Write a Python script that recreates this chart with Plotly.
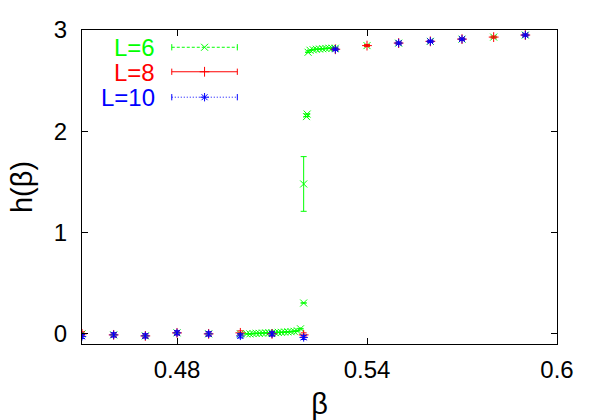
import plotly.graph_objects as go

# L=6 (green, x marks)
beta6 = [0.45, 0.46, 0.47, 0.48, 0.49, 0.50,
         0.502, 0.503, 0.504, 0.505, 0.506, 0.507, 0.508, 0.509, 0.510,
         0.511, 0.512, 0.513, 0.514, 0.515, 0.516, 0.517, 0.518, 0.519,
         0.520, 0.520, 0.5209, 0.5211, 0.5214,
         0.522, 0.523, 0.524, 0.525, 0.526, 0.527, 0.528, 0.529, 0.530,
         0.54, 0.55, 0.56, 0.57, 0.58, 0.59]
h6 = [0.0, -0.01, -0.02, 0.01, 0.0, 0.0,
      0.0, 0.0, 0.003, 0.005, 0.005, 0.008, 0.01, 0.01, 0.01,
      0.012, 0.015, 0.015, 0.018, 0.02, 0.022, 0.025, 0.03, 0.05,
      0.305, 1.48, 2.145, 2.17, 2.78,
      2.80, 2.805, 2.81, 2.812, 2.815, 2.818, 2.82, 2.82, 2.82,
      2.846, 2.87, 2.888, 2.91, 2.93, 2.95]
err6 = [0.0] * len(beta6)
err6[25] = 0.27

# L=8 (red, + marks)
beta8 = [0.45, 0.46, 0.47, 0.48, 0.49, 0.50, 0.51, 0.52,
         0.53, 0.54, 0.55, 0.56, 0.57, 0.58, 0.59]
h8 = [0.0, -0.01, -0.02, 0.01, 0.0, 0.01, 0.0, -0.01,
      2.81, 2.846, 2.871, 2.888, 2.91, 2.93, 2.95]
err8 = [0.02] * 8 + [0.01] * 7

# L=10 (blue, * marks)
beta10 = [0.45, 0.46, 0.47, 0.48, 0.49, 0.50, 0.51, 0.52,
          0.53, 0.55, 0.56, 0.57, 0.59]
h10 = [-0.025, -0.01, -0.02, 0.01, 0.0, -0.02, 0.0, -0.035,
       2.81, 2.871, 2.888, 2.91, 2.95]
err10 = [0.02] * 8 + [0.01] * 5

GREEN = '#00ff00'
RED = '#ff0000'
BLUE = '#0000ff'
FONT = 'Liberation Sans, Arial, sans-serif'

fig = go.Figure()

series = [
    ('L=6', beta6, h6, err6, GREEN, 'x-thin', '3px,2px'),
    ('L=8', beta8, h8, err8, RED, 'cross-thin', 'solid'),
    ('L=10', beta10, h10, err10, BLUE, 'asterisk', '1px,2px'),
]

for name, xs, ys, es, col, sym, dash in series:
    fig.add_trace(go.Scatter(
        x=xs, y=ys, mode='markers', name=name,
        marker=dict(symbol=sym, size=7, color=col, line=dict(color=col, width=1)),
        error_y=dict(type='data', array=es, visible=True, color=col, thickness=1, width=3),
        showlegend=False
    ))

# hand-made gnuplot style key in the top left corner
key_y = [0.945, 0.867, 0.786]
x0, x1 = 0.189, 0.327
for (name, xs, ys, es, col, sym, dash), ky in zip(series, key_y):
    fig.add_shape(type='line', xref='x domain', yref='y domain',
                  x0=x0, x1=x1, y0=ky, y1=ky, line=dict(color=col, width=1, dash=dash))
    for cx in (x0, x1):
        fig.add_shape(type='line', xref='x domain', yref='y domain',
                      x0=cx, x1=cx, y0=ky - 0.01, y1=ky + 0.01, line=dict(color=col, width=1))
    fig.add_trace(go.Scatter(
        x=[(x0 + x1) / 2], y=[ky], xaxis='x2', yaxis='y2', mode='markers',
        marker=dict(symbol=sym, size=7, color=col, line=dict(color=col, width=1)),
        showlegend=False, hoverinfo='skip'
    ))
    fig.add_annotation(xref='x domain', yref='y domain', x=0.156, y=ky,
                       text=name, showarrow=False, xanchor='right', yanchor='middle',
                       height=22, borderpad=0,
                       font=dict(family=FONT, size=24, color=col))

fig.update_layout(
    width=599, height=420,
    margin=dict(l=82, r=42, t=30, b=76),
    plot_bgcolor='white', paper_bgcolor='white',
    font=dict(family=FONT, size=24, color='black'),
    xaxis=dict(range=[0.45, 0.6], tickvals=[0.48, 0.54, 0.6], ticktext=['0.48', '0.54', '0.6'],
               ticks='inside', ticklen=6, tickcolor='black', showline=True, linecolor='black',
               linewidth=1, mirror='ticks', showgrid=False, zeroline=False, automargin=False,
               ticklabelstandoff=4, title=dict(text='β', standoff=12)),
    yaxis=dict(range=[-0.1, 3.0], tickvals=[0, 1, 2, 3],
               ticks='inside', ticklen=6, tickcolor='black', showline=True, linecolor='black',
               linewidth=1, mirror='ticks', showgrid=False, zeroline=False, automargin=False,
               ticklabelstandoff=9, title=dict(text='h(β)', standoff=12)),
    xaxis2=dict(range=[0, 1], overlaying='x', visible=False),
    yaxis2=dict(range=[0, 1], overlaying='y', visible=False),
)

# page body has a default 8px margin; drop it so the figure sits at the window corner
fig.write_html("out.html", config={'displayModeBar': False},
               post_script="document.body.style.margin='0';")
